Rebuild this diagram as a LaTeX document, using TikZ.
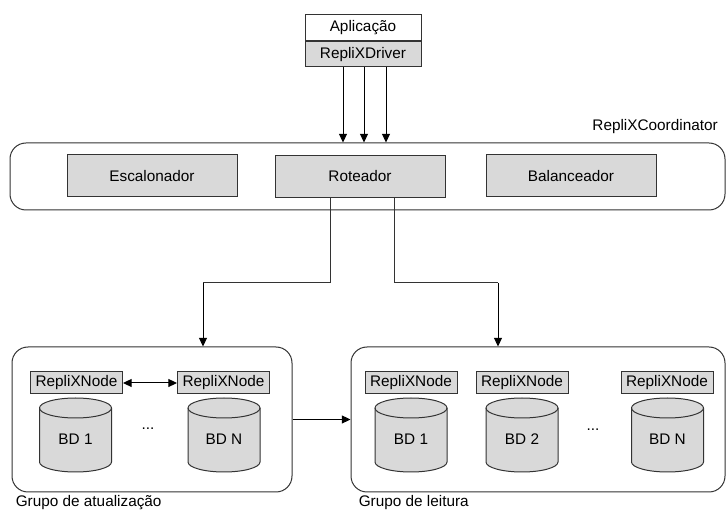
\documentclass[tikz,border=0pt]{standalone}
\usepackage{fontspec}
\setmainfont{Liberation Sans}
\usetikzlibrary{arrows.meta}

\definecolor{boxgray}{HTML}{D9D9D9}
\definecolor{linegray}{HTML}{333333}

% database cylinder: #1 name, #2 centre x, #3 label
\newcommand\dbcyl[3]{%
  \draw[dbline] (#2-36,-408) -- (#2-36,-462)
    arc[start angle=180,end angle=360,x radius=36,y radius=10]
    -- (#2+36,-408)
    arc[start angle=0,end angle=180,x radius=36,y radius=10] -- cycle;
  \draw[dbline,fill=none] (#2+36,-408)
    arc[start angle=0,end angle=-180,x radius=36,y radius=10];
  \node[txt] (#1) at (#2,-439) {#3};
}

\begin{document}
\begin{tikzpicture}[x=0.75pt,y=0.75pt,
  txt/.style={font=\fontsize{11.5}{13}\selectfont,inner sep=0pt},
  grayrect/.style={draw=linegray,line width=0.75pt,fill=boxgray,
    font=\fontsize{11.5}{13}\selectfont,inner sep=0pt},
  nodebox/.style={grayrect,minimum width=69pt,minimum height=16.5pt},
  modbox/.style={grayrect,minimum width=127.5pt,minimum height=31.5pt},
  groupbox/.style={draw=linegray,line width=0.75pt,rounded corners=12pt,
    inner sep=0pt},
  dbline/.style={draw=linegray,line width=0.75pt,fill=boxgray},
  arr/.style={draw=black,line width=0.75pt,-{Triangle[length=6.5pt,width=6pt]}},
  dblarr/.style={draw=black,line width=0.75pt,
    {Triangle[length=6.5pt,width=6pt]}-{Triangle[length=6.5pt,width=6pt]}},
  conn/.style={draw=linegray,line width=0.75pt}]

\useasboundingbox (0,0) rectangle (726,-513);

% client application and its driver
\node[grayrect,fill=white,minimum width=87pt,minimum height=20pt]
  (app) at (363,-27.5) {Aplicação};
\node[grayrect,minimum width=87pt,minimum height=18.75pt,anchor=north]
  (driver) at (app.south) {RepliXDriver};

% coordinator
\node[groupbox,minimum width=536.25pt,minimum height=50.25pt]
  (coord) at (367.5,-176.5) {};
\node[txt,anchor=east] (coordlbl) at (718,-127) {RepliXCoordinator};
\node[modbox] (esc) at (152,-176) {Escalonador};
\node[modbox] (rot) at (360,-176.5) {Roteador};
\node[modbox] (bal) at (571,-176) {Balanceador};

% driver to coordinator
\foreach \xa in {343,364,386}
  \draw[arr] (driver.south -| \xa,0) -- (coord.north -| \xa,0);

% replica groups
\node[groupbox,minimum width=210pt,minimum height=108.75pt]
  (upd) at (152,-419.5) {};
\node[groupbox,minimum width=280.5pt,minimum height=108.75pt]
  (rd) at (538,-419.5) {};
\node[txt,anchor=west] (updlbl) at (15.5,-503) {Grupo de atualização};
\node[txt,anchor=west] (rdlbl) at (358.5,-503) {Grupo de leitura};

% router to groups
\coordinate (tl) at (203,-283);
\coordinate (tr) at (498,-283);
\draw[conn] (rot.south -| 330,0) |- (tl);
\draw[arr] (tl) -- (upd.north -| tl);
\draw[conn] (rot.south -| 394,0) |- (tr);
\draw[arr] (tr) -- (rd.north -| tr);

% update group to read group
\draw[arr] (upd.east) -- (rd.west);

% update group contents
\node[nodebox] (u1) at (76.5,-383) {RepliXNode};
\node[nodebox] (un) at (223.5,-383) {RepliXNode};
\draw[dblarr] (u1.east) -- (un.west);
\dbcyl{ubd1}{75.5}{BD 1}
\dbcyl{ubdn}{224}{BD N}
\node[txt] (udots) at (148,-429) {...};

% read group contents
\node[nodebox] (r1) at (411,-383) {RepliXNode};
\node[nodebox] (r2) at (522,-383) {RepliXNode};
\node[nodebox] (rn) at (667,-383) {RepliXNode};
\dbcyl{rbd1}{411}{BD 1}
\dbcyl{rbd2}{522}{BD 2}
\dbcyl{rbdn}{667.5}{BD N}
\node[txt] (rdots) at (593,-430) {...};

\end{tikzpicture}
\end{document}
